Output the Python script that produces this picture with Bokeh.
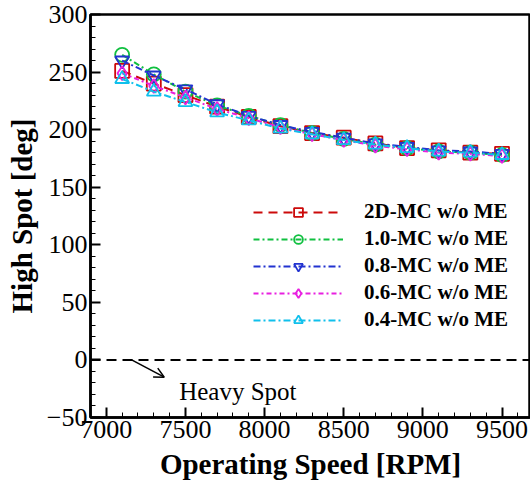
from bokeh.plotting import figure
from bokeh.models import (Legend, LegendItem, Span, Arrow, OpenHead, Range1d,
                          SingleIntervalTicker)
from bokeh.core.properties import value
from bokeh.embed import file_html
from bokeh.resources import INLINE

# Operating speed [RPM]
speed = [7100, 7300, 7500, 7700, 7900, 8100, 8300, 8500, 8700, 8900, 9100, 9300, 9500]

# High-spot angle [deg] for each model
mc_2d = [251, 240, 230, 220, 211, 203, 197, 193, 188, 184, 182, 180, 179]
mc_10 = [265, 248, 233, 221, 212, 204, 197, 192, 187, 184, 181, 180, 178]
mc_08 = [260, 247, 235, 222, 212, 204, 198, 193, 188, 185, 182, 181, 179]
mc_06 = [249, 238, 228, 218, 210, 202, 196, 191, 186, 183, 180, 179, 177]
mc_04 = [244, 233, 224, 215, 208, 201, 196, 191, 187, 184, 181, 180, 178]

labels = ["2D-MC w/o ME", "1.0-MC w/o ME", "0.8-MC w/o ME", "0.6-MC w/o ME", "0.4-MC w/o ME"]

SERIF = "Liberation Serif"

p = figure(width=530, height=484, output_backend="svg", toolbar_location=None,
           x_range=Range1d(6900, 9680), y_range=Range1d(-50, 300),
           min_border_left=90, min_border_right=0, min_border_top=14,
           min_border_bottom=67)
p.xgrid.visible = False
p.ygrid.visible = False
p.outline_line_color = "black"
p.outline_line_width = 2.5
p.background_fill_color = "white"
p.border_fill_color = "white"

p.xaxis.ticker = SingleIntervalTicker(interval=500, num_minor_ticks=5)
p.yaxis.ticker = SingleIntervalTicker(interval=50, num_minor_ticks=5)

for ax in (p.xaxis[0], p.yaxis[0]):
    ax.axis_line_width = 2.5
    ax.axis_line_color = "black"
    ax.major_tick_in = 10
    ax.major_tick_out = 0
    ax.minor_tick_in = 5
    ax.minor_tick_out = 0
    ax.major_tick_line_width = 2
    ax.minor_tick_line_width = 1
    ax.major_tick_line_color = "black"
    ax.minor_tick_line_color = "black"
    ax.major_label_text_font = SERIF
    ax.major_label_text_font_size = "26px"
    ax.major_label_text_color = "black"
    ax.axis_label_text_font = SERIF
    ax.axis_label_text_font_size = "29px"
    ax.axis_label_text_font_style = "bold"
    ax.axis_label_text_color = "black"
    ax.major_label_standoff = 3

p.xaxis.axis_label_standoff = 7
p.yaxis.axis_label_standoff = 6
p.xaxis.axis_label = "Operating Speed [RPM]"
p.yaxis.axis_label = "High Spot [deg]"

# Reference line at 0 deg (heavy spot)
p.add_layout(Span(location=0, dimension="width", line_color="black",
                  line_width=2, line_dash="10 6"))
p.add_layout(Arrow(end=OpenHead(size=10, line_width=1.5, line_color="black"),
                   x_start=7160, y_start=0, x_end=7366, y_end=-15,
                   line_width=1.5, line_color="black"))
p.text(x=[7460], y=[-27], text=["Heavy Spot"], text_font=value(SERIF),
       text_font_size="25px", text_baseline="alphabetic", text_align="left",
       text_color="black")

series = [mc_2d, mc_10, mc_08, mc_06, mc_04]
colors = ["#cc0a0a", "#10c040", "#2233d0", "#e820e0", "#10c0ec"]
dashes = ["9 6", "6 3 2 3", "7 3 2 3", "5 3 2 3", "7 3 2 3"]
markers = ["square", "circle", "inverted_triangle", "diamond", "triangle"]

items = []
for ys, c, d, m, lab in zip(series, colors, dashes, markers, labels):
    ln = p.line(speed, ys, line_color=c, line_width=2, line_dash=d)
    sc = p.scatter(speed, ys, marker=m, size=14, line_color=c, line_width=1.8,
                   fill_color=None)
    items.append(LegendItem(label=lab, renderers=[ln, sc]))

legend = Legend(items=items, location=(163, 85), padding=0, margin=0,
                spacing=2, glyph_width=90, glyph_height=22, label_height=22,
                label_standoff=21, label_text_font=SERIF,
                label_text_font_size="21px", label_text_font_style="bold",
                label_text_color="black", border_line_color=None,
                background_fill_alpha=0)
p.add_layout(legend, "center")

open("out.html", "w").write(file_html(p, INLINE))
